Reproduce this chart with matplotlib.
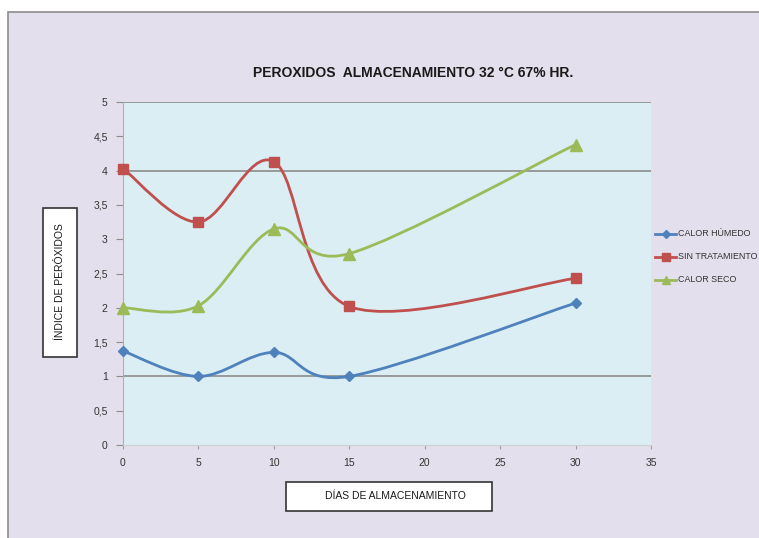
import numpy as np
import matplotlib
matplotlib.use('Agg')
import matplotlib.pyplot as plt
from matplotlib.path import Path
from matplotlib.patches import PathPatch, Rectangle

# storage days and peroxide index per treatment
dias = [0, 5, 10, 15, 30]
calor_humedo = [1.37, 1.0, 1.35, 1.0, 2.07]
sin_tratamiento = [4.03, 3.25, 4.13, 2.02, 2.43]
calor_seco = [2.0, 2.03, 3.15, 2.79, 4.38]

series = [
    ('CALOR HÚMEDO', calor_humedo, '#4F81BD', 'D', 5.5),
    ('SIN TRATAMIENTO', sin_tratamiento, '#C0504D', 's', 7.5),
    ('CALOR SECO', calor_seco, '#9BBB59', '^', 8),
]

W, H = 759, 538
plt.rcParams['font.family'] = ['Liberation Sans', 'DejaVu Sans']


def smooth_path(x, y):
    # bezier segments with catmull-rom style handles (spreadsheet smoothing)
    p = np.column_stack([x, y]).astype(float)
    n = len(p)
    verts = [p[0]]
    codes = [Path.MOVETO]
    for i in range(n - 1):
        p0 = p[i - 1] if i > 0 else p[i]
        p3 = p[i + 2] if i + 2 < n else p[i + 1]
        c1 = p[i] + (p[i + 1] - p0) / 6
        c2 = p[i + 1] - (p3 - p[i]) / 6
        verts += [c1, c2, p[i + 1]]
        codes += [Path.CURVE4] * 3
    return Path(verts, codes)


fig = plt.figure(figsize=(W / 100, H / 100), dpi=100, facecolor='white')

# lavender chart area with a gray frame
fig.patches.append(Rectangle((8 / W, -0.1), 1.2, 1 - 12 / H + 0.1, transform=fig.transFigure,
                             facecolor='#E4DFEC', edgecolor='#8C8C8C', lw=1.2, zorder=-5))

ax = fig.add_axes([123 / W, 1 - 445 / H, (651 - 123) / W, (445 - 102) / H])
ax.set_zorder(2)
ax.set_facecolor('#DAEEF3')
ax.set_xlim(0, 35)
ax.set_ylim(0, 5)

for g in [1, 4, 5]:
    ax.axhline(g, color='#8C8C8C', lw=1.2, zorder=1)

for name, vals, col, mk, ms in series:
    ax.add_patch(PathPatch(smooth_path(dias, vals), facecolor='none', edgecolor=col, lw=2, zorder=3))
    ax.plot(dias, vals, ls='none', marker=mk, color=col, ms=ms, zorder=4, label=name, clip_on=False)

for s in ['top', 'right']:
    ax.spines[s].set_visible(False)
ax.spines['left'].set_color('#B0B0B0')
ax.spines['bottom'].set_color('#D0D0D0')

ax.set_xticks(range(0, 36, 5))
ax.set_yticks(np.arange(0, 5.01, 0.5))
ax.set_yticklabels([('%g' % v).replace('.', ',') for v in np.arange(0, 5.01, 0.5)])
ax.tick_params(axis='y', length=5, color='#8C8C8C', labelsize=7.5, labelcolor='#333333', pad=6)
ax.tick_params(axis='x', length=3, color='#A0A0A0', labelsize=7.5, labelcolor='#333333', pad=6)

fig.text(413 / W, 1 - 73 / H, 'PEROXIDOS  ALMACENAMIENTO 32 °C 67% HR.', ha='center', va='center',
         fontsize=10, fontweight='bold', color='#1A1A1A')

# axis titles inside boxes
fig.patches.append(Rectangle((43 / W, 1 - 357 / H), 34 / W, 149 / H, transform=fig.transFigure,
                             facecolor='white', edgecolor='#333333', lw=1.2, zorder=-1))
fig.text(60 / W, 1 - 282 / H, 'ÍNDICE DE PERÓXIDOS', rotation=90, ha='center', va='center',
         fontsize=7.5, color='#1A1A1A')
fig.patches.append(Rectangle((286 / W, 1 - 511 / H), 206 / W, 29 / H, transform=fig.transFigure,
                             facecolor='white', edgecolor='#333333', lw=1.2, zorder=-1))
fig.text(395 / W, 1 - 496 / H, 'DÍAS DE ALMACENAMIENTO', ha='center', va='center',
         fontsize=7.5, color='#1A1A1A')

# legend on the right edge
for i, (name, vals, col, mk, ms) in enumerate(series):
    yy = 1 - (234 + 23 * i) / H
    fig.add_artist(plt.Line2D([655 / W, 676 / W], [yy, yy], color=col, lw=2, transform=fig.transFigure))
    fig.add_artist(plt.Line2D([665.5 / W], [yy], marker=mk, color=col, ms=ms * 0.75,
                              transform=fig.transFigure))
    fig.text(678 / W, yy, name, ha='left', va='center', fontsize=6.4, color='#333333')

fig.savefig('out.png', dpi=100)
